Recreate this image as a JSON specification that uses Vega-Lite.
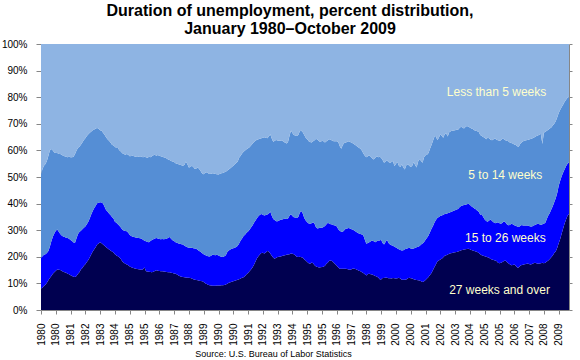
{
  "$schema": "https://vega.github.io/schema/vega-lite/v6.json",
  "width": 528,
  "height": 266,
  "autosize": "none",
  "padding": {"left": 41, "top": 44, "right": 11, "bottom": 50},
  "background": "white",
  "config": {"view": {"stroke": null}, "font": "Liberation Sans", "axisX": {"labelOverlap": false, "labelFlush": false, "labelBound": false}},
  "title": {
    "text": ["Duration of unemployment, percent distribution,", "January 1980–October 2009"],
    "font": "Liberation Sans",
    "fontSize": 16,
    "fontWeight": "bold",
    "color": "#000000",
    "anchor": "middle",
    "dx": -15,
    "offset": 2,
    "lineHeight": 18
  },
  "resolve": {"axis": {"y": "independent"}},
  "layer": [
    {
      "data": {"values": [
        {"d":"1980-01","long":8.0,"mid":11.6,"short":31.5,"vshort":48.9},
        {"d":"1980-02","long":8.5,"mid":11.7,"short":32.8,"vshort":47.0},
        {"d":"1980-03","long":9.0,"mid":11.8,"short":33.4,"vshort":45.8},
        {"d":"1980-04","long":9.5,"mid":11.5,"short":33.9,"vshort":45.1},
        {"d":"1980-05","long":10.2,"mid":11.2,"short":34.6,"vshort":44.0},
        {"d":"1980-06","long":11.2,"mid":11.0,"short":35.8,"vshort":42.0},
        {"d":"1980-07","long":12.0,"mid":11.8,"short":36.2,"vshort":40.0},
        {"d":"1980-08","long":12.8,"mid":13.0,"short":34.7,"vshort":39.5},
        {"d":"1980-09","long":13.6,"mid":13.9,"short":32.5,"vshort":40.0},
        {"d":"1980-10","long":14.2,"mid":14.6,"short":30.4,"vshort":40.8},
        {"d":"1980-11","long":14.8,"mid":15.0,"short":29.2,"vshort":41.0},
        {"d":"1980-12","long":15.2,"mid":15.1,"short":28.7,"vshort":41.0},
        {"d":"1981-01","long":15.1,"mid":14.3,"short":29.2,"vshort":41.4},
        {"d":"1981-02","long":15.0,"mid":13.6,"short":30.0,"vshort":41.4},
        {"d":"1981-03","long":14.8,"mid":13.2,"short":30.4,"vshort":41.6},
        {"d":"1981-04","long":14.4,"mid":13.2,"short":30.4,"vshort":42.0},
        {"d":"1981-05","long":14.2,"mid":13.2,"short":30.4,"vshort":42.2},
        {"d":"1981-06","long":14.0,"mid":13.2,"short":30.4,"vshort":42.4},
        {"d":"1981-07","long":13.6,"mid":13.5,"short":30.3,"vshort":42.6},
        {"d":"1981-08","long":13.4,"mid":13.4,"short":30.8,"vshort":42.4},
        {"d":"1981-09","long":13.1,"mid":13.2,"short":31.1,"vshort":42.6},
        {"d":"1981-10","long":12.8,"mid":13.1,"short":31.5,"vshort":42.6},
        {"d":"1981-11","long":12.5,"mid":12.9,"short":32.2,"vshort":42.4},
        {"d":"1981-12","long":12.4,"mid":12.9,"short":33.3,"vshort":41.4},
        {"d":"1982-01","long":12.8,"mid":14.2,"short":33.0,"vshort":40.0},
        {"d":"1982-02","long":13.6,"mid":15.0,"short":32.4,"vshort":39.0},
        {"d":"1982-03","long":14.2,"mid":15.1,"short":32.1,"vshort":38.6},
        {"d":"1982-04","long":15.2,"mid":14.6,"short":32.3,"vshort":37.9},
        {"d":"1982-05","long":15.8,"mid":14.6,"short":32.6,"vshort":37.0},
        {"d":"1982-06","long":16.6,"mid":14.3,"short":33.0,"vshort":36.1},
        {"d":"1982-07","long":17.2,"mid":14.2,"short":33.2,"vshort":35.4},
        {"d":"1982-08","long":18.0,"mid":14.2,"short":33.2,"vshort":34.6},
        {"d":"1982-09","long":18.8,"mid":14.4,"short":32.9,"vshort":33.9},
        {"d":"1982-10","long":19.8,"mid":14.7,"short":32.1,"vshort":33.4},
        {"d":"1982-11","long":21.0,"mid":15.0,"short":31.1,"vshort":32.9},
        {"d":"1982-12","long":22.0,"mid":15.2,"short":30.4,"vshort":32.4},
        {"d":"1983-01","long":22.8,"mid":15.5,"short":29.6,"vshort":32.1},
        {"d":"1983-02","long":23.7,"mid":15.5,"short":29.0,"vshort":31.8},
        {"d":"1983-03","long":24.6,"mid":15.5,"short":28.3,"vshort":31.6},
        {"d":"1983-04","long":25.0,"mid":15.3,"short":27.8,"vshort":31.9},
        {"d":"1983-05","long":25.5,"mid":15.0,"short":27.1,"vshort":32.4},
        {"d":"1983-06","long":25.1,"mid":15.3,"short":27.0,"vshort":32.6},
        {"d":"1983-07","long":24.6,"mid":15.4,"short":26.6,"vshort":33.4},
        {"d":"1983-08","long":24.2,"mid":14.6,"short":27.1,"vshort":34.1},
        {"d":"1983-09","long":23.6,"mid":14.0,"short":27.3,"vshort":35.1},
        {"d":"1983-10","long":23.2,"mid":13.8,"short":27.2,"vshort":35.8},
        {"d":"1983-11","long":22.7,"mid":13.6,"short":27.3,"vshort":36.4},
        {"d":"1983-12","long":22.4,"mid":13.3,"short":27.3,"vshort":37.0},
        {"d":"1984-01","long":22.0,"mid":13.0,"short":27.1,"vshort":37.9},
        {"d":"1984-02","long":21.6,"mid":12.8,"short":27.4,"vshort":38.2},
        {"d":"1984-03","long":21.0,"mid":12.2,"short":28.2,"vshort":38.6},
        {"d":"1984-04","long":20.5,"mid":12.3,"short":28.1,"vshort":39.1},
        {"d":"1984-05","long":20.2,"mid":12.0,"short":28.7,"vshort":39.1},
        {"d":"1984-06","long":19.7,"mid":12.0,"short":28.4,"vshort":39.9},
        {"d":"1984-07","long":19.2,"mid":11.8,"short":28.6,"vshort":40.4},
        {"d":"1984-08","long":18.2,"mid":12.0,"short":28.7,"vshort":41.1},
        {"d":"1984-09","long":17.8,"mid":12.1,"short":28.7,"vshort":41.4},
        {"d":"1984-10","long":17.4,"mid":12.3,"short":28.7,"vshort":41.6},
        {"d":"1984-11","long":17.1,"mid":12.5,"short":29.0,"vshort":41.4},
        {"d":"1984-12","long":16.8,"mid":12.2,"short":29.4,"vshort":41.6},
        {"d":"1985-01","long":16.4,"mid":11.8,"short":29.6,"vshort":42.2},
        {"d":"1985-02","long":16.1,"mid":11.7,"short":30.1,"vshort":42.1},
        {"d":"1985-03","long":15.9,"mid":11.6,"short":30.5,"vshort":42.0},
        {"d":"1985-04","long":15.7,"mid":11.7,"short":30.4,"vshort":42.2},
        {"d":"1985-05","long":15.5,"mid":11.8,"short":30.3,"vshort":42.4},
        {"d":"1985-06","long":15.4,"mid":11.8,"short":30.6,"vshort":42.2},
        {"d":"1985-07","long":15.3,"mid":11.8,"short":30.5,"vshort":42.4},
        {"d":"1985-08","long":15.2,"mid":11.8,"short":30.5,"vshort":42.5},
        {"d":"1985-09","long":15.1,"mid":11.7,"short":30.8,"vshort":42.4},
        {"d":"1985-10","long":15.3,"mid":11.1,"short":31.0,"vshort":42.6},
        {"d":"1985-11","long":16.0,"mid":10.0,"short":31.6,"vshort":42.4},
        {"d":"1985-12","long":14.6,"mid":11.2,"short":31.6,"vshort":42.6},
        {"d":"1986-01","long":14.5,"mid":11.1,"short":31.6,"vshort":42.8},
        {"d":"1986-02","long":14.4,"mid":11.1,"short":32.1,"vshort":42.4},
        {"d":"1986-03","long":14.3,"mid":11.6,"short":31.5,"vshort":42.6},
        {"d":"1986-04","long":14.2,"mid":12.1,"short":31.5,"vshort":42.2},
        {"d":"1986-05","long":14.4,"mid":12.2,"short":31.6,"vshort":41.8},
        {"d":"1986-06","long":14.7,"mid":12.2,"short":31.5,"vshort":41.6},
        {"d":"1986-07","long":14.9,"mid":12.2,"short":30.9,"vshort":42.0},
        {"d":"1986-08","long":14.8,"mid":12.1,"short":31.4,"vshort":41.7},
        {"d":"1986-09","long":14.7,"mid":12.0,"short":31.3,"vshort":42.0},
        {"d":"1986-10","long":14.6,"mid":12.0,"short":31.2,"vshort":42.2},
        {"d":"1986-11","long":14.6,"mid":12.1,"short":30.9,"vshort":42.4},
        {"d":"1986-12","long":14.5,"mid":12.1,"short":30.8,"vshort":42.6},
        {"d":"1987-01","long":14.4,"mid":12.3,"short":30.5,"vshort":42.8},
        {"d":"1987-02","long":14.3,"mid":12.5,"short":30.2,"vshort":43.0},
        {"d":"1987-03","long":14.2,"mid":13.0,"short":29.4,"vshort":43.4},
        {"d":"1987-04","long":14.2,"mid":13.2,"short":29.0,"vshort":43.6},
        {"d":"1987-05","long":14.0,"mid":12.8,"short":29.2,"vshort":44.0},
        {"d":"1987-06","long":13.9,"mid":12.3,"short":29.6,"vshort":44.2},
        {"d":"1987-07","long":13.7,"mid":12.2,"short":29.7,"vshort":44.4},
        {"d":"1987-08","long":13.6,"mid":11.9,"short":29.7,"vshort":44.8},
        {"d":"1987-09","long":13.3,"mid":12.0,"short":29.7,"vshort":45.0},
        {"d":"1987-10","long":13.0,"mid":12.0,"short":29.8,"vshort":45.2},
        {"d":"1987-11","long":12.7,"mid":12.2,"short":29.7,"vshort":45.4},
        {"d":"1987-12","long":12.5,"mid":12.2,"short":29.7,"vshort":45.6},
        {"d":"1988-01","long":12.4,"mid":12.2,"short":29.6,"vshort":45.8},
        {"d":"1988-02","long":12.3,"mid":11.9,"short":30.4,"vshort":45.4},
        {"d":"1988-03","long":12.2,"mid":11.7,"short":31.9,"vshort":44.2},
        {"d":"1988-04","long":12.1,"mid":11.5,"short":31.2,"vshort":45.2},
        {"d":"1988-05","long":12.1,"mid":11.3,"short":30.2,"vshort":46.4},
        {"d":"1988-06","long":12.0,"mid":11.4,"short":30.4,"vshort":46.2},
        {"d":"1988-07","long":11.8,"mid":11.6,"short":30.8,"vshort":45.8},
        {"d":"1988-08","long":11.6,"mid":11.6,"short":30.6,"vshort":46.2},
        {"d":"1988-09","long":11.4,"mid":11.7,"short":29.9,"vshort":47.0},
        {"d":"1988-10","long":11.3,"mid":11.7,"short":30.2,"vshort":46.8},
        {"d":"1988-11","long":11.2,"mid":11.4,"short":31.0,"vshort":46.4},
        {"d":"1988-12","long":11.0,"mid":11.2,"short":30.8,"vshort":47.0},
        {"d":"1989-01","long":10.9,"mid":10.9,"short":30.4,"vshort":47.8},
        {"d":"1989-02","long":10.8,"mid":10.5,"short":29.9,"vshort":48.8},
        {"d":"1989-03","long":10.5,"mid":10.5,"short":30.0,"vshort":49.0},
        {"d":"1989-04","long":10.1,"mid":10.6,"short":30.9,"vshort":48.4},
        {"d":"1989-05","long":9.8,"mid":10.6,"short":31.4,"vshort":48.2},
        {"d":"1989-06","long":9.5,"mid":10.7,"short":31.2,"vshort":48.6},
        {"d":"1989-07","long":9.3,"mid":10.8,"short":31.0,"vshort":48.9},
        {"d":"1989-08","long":9.2,"mid":11.2,"short":30.8,"vshort":48.8},
        {"d":"1989-09","long":9.1,"mid":11.7,"short":30.6,"vshort":48.6},
        {"d":"1989-10","long":9.1,"mid":11.6,"short":30.6,"vshort":48.7},
        {"d":"1989-11","long":9.1,"mid":11.5,"short":30.5,"vshort":48.9},
        {"d":"1989-12","long":9.2,"mid":11.6,"short":30.2,"vshort":49.0},
        {"d":"1990-01","long":9.2,"mid":11.3,"short":30.4,"vshort":49.1},
        {"d":"1990-02","long":9.2,"mid":11.0,"short":31.0,"vshort":48.8},
        {"d":"1990-03","long":9.3,"mid":10.7,"short":31.4,"vshort":48.6},
        {"d":"1990-04","long":9.3,"mid":10.6,"short":31.6,"vshort":48.5},
        {"d":"1990-05","long":9.4,"mid":10.8,"short":31.6,"vshort":48.2},
        {"d":"1990-06","long":9.6,"mid":11.0,"short":31.4,"vshort":48.0},
        {"d":"1990-07","long":9.9,"mid":11.9,"short":30.6,"vshort":47.6},
        {"d":"1990-08","long":10.2,"mid":12.2,"short":30.4,"vshort":47.2},
        {"d":"1990-09","long":10.4,"mid":12.3,"short":30.6,"vshort":46.7},
        {"d":"1990-10","long":10.6,"mid":12.4,"short":30.8,"vshort":46.2},
        {"d":"1990-11","long":10.8,"mid":12.4,"short":31.0,"vshort":45.8},
        {"d":"1990-12","long":11.0,"mid":12.4,"short":31.4,"vshort":45.2},
        {"d":"1991-01","long":11.2,"mid":12.5,"short":31.6,"vshort":44.7},
        {"d":"1991-02","long":11.4,"mid":12.8,"short":31.6,"vshort":44.2},
        {"d":"1991-03","long":11.6,"mid":13.4,"short":32.2,"vshort":42.8},
        {"d":"1991-04","long":11.8,"mid":14.3,"short":31.9,"vshort":42.0},
        {"d":"1991-05","long":12.1,"mid":14.8,"short":31.9,"vshort":41.2},
        {"d":"1991-06","long":12.3,"mid":15.5,"short":31.7,"vshort":40.5},
        {"d":"1991-07","long":12.8,"mid":15.5,"short":31.7,"vshort":40.0},
        {"d":"1991-08","long":13.4,"mid":15.6,"short":31.4,"vshort":39.6},
        {"d":"1991-09","long":13.9,"mid":15.6,"short":31.3,"vshort":39.2},
        {"d":"1991-10","long":14.6,"mid":15.6,"short":31.0,"vshort":38.8},
        {"d":"1991-11","long":15.2,"mid":15.8,"short":30.8,"vshort":38.2},
        {"d":"1991-12","long":16.0,"mid":15.8,"short":30.7,"vshort":37.5},
        {"d":"1992-01","long":17.0,"mid":15.8,"short":30.4,"vshort":36.8},
        {"d":"1992-02","long":18.2,"mid":15.4,"short":30.0,"vshort":36.4},
        {"d":"1992-03","long":19.4,"mid":15.1,"short":29.5,"vshort":36.0},
        {"d":"1992-04","long":20.2,"mid":15.0,"short":29.0,"vshort":35.8},
        {"d":"1992-05","long":20.9,"mid":14.9,"short":28.6,"vshort":35.6},
        {"d":"1992-06","long":21.4,"mid":14.7,"short":28.5,"vshort":35.4},
        {"d":"1992-07","long":21.5,"mid":14.3,"short":29.0,"vshort":35.2},
        {"d":"1992-08","long":21.2,"mid":14.3,"short":29.4,"vshort":35.1},
        {"d":"1992-09","long":21.6,"mid":14.1,"short":29.1,"vshort":35.2},
        {"d":"1992-10","long":22.2,"mid":13.7,"short":28.7,"vshort":35.4},
        {"d":"1992-11","long":22.0,"mid":14.2,"short":29.0,"vshort":34.8},
        {"d":"1992-12","long":21.2,"mid":15.8,"short":29.1,"vshort":33.9},
        {"d":"1993-01","long":20.4,"mid":15.0,"short":29.1,"vshort":35.5},
        {"d":"1993-02","long":19.6,"mid":14.6,"short":29.0,"vshort":36.8},
        {"d":"1993-03","long":19.3,"mid":14.5,"short":29.8,"vshort":36.4},
        {"d":"1993-04","long":19.6,"mid":13.8,"short":30.5,"vshort":36.1},
        {"d":"1993-05","long":19.9,"mid":13.5,"short":30.3,"vshort":36.3},
        {"d":"1993-06","long":20.0,"mid":13.6,"short":30.0,"vshort":36.4},
        {"d":"1993-07","long":20.1,"mid":13.8,"short":29.7,"vshort":36.4},
        {"d":"1993-08","long":20.3,"mid":13.7,"short":29.8,"vshort":36.2},
        {"d":"1993-09","long":20.5,"mid":13.7,"short":29.0,"vshort":36.8},
        {"d":"1993-10","long":20.6,"mid":13.7,"short":28.7,"vshort":37.0},
        {"d":"1993-11","long":20.8,"mid":13.4,"short":28.4,"vshort":37.4},
        {"d":"1993-12","long":20.9,"mid":13.5,"short":28.8,"vshort":36.8},
        {"d":"1994-01","long":21.0,"mid":14.4,"short":30.1,"vshort":34.5},
        {"d":"1994-02","long":21.2,"mid":14.8,"short":31.5,"vshort":32.5},
        {"d":"1994-03","long":21.1,"mid":14.2,"short":31.2,"vshort":33.5},
        {"d":"1994-04","long":21.0,"mid":13.9,"short":30.9,"vshort":34.2},
        {"d":"1994-05","long":20.5,"mid":14.3,"short":30.8,"vshort":34.4},
        {"d":"1994-06","long":20.0,"mid":14.6,"short":30.8,"vshort":34.6},
        {"d":"1994-07","long":19.9,"mid":15.1,"short":30.8,"vshort":34.2},
        {"d":"1994-08","long":20.0,"mid":16.6,"short":30.6,"vshort":32.8},
        {"d":"1994-09","long":19.8,"mid":17.4,"short":30.2,"vshort":32.6},
        {"d":"1994-10","long":19.7,"mid":16.6,"short":30.5,"vshort":33.2},
        {"d":"1994-11","long":19.0,"mid":15.6,"short":31.2,"vshort":34.2},
        {"d":"1994-12","long":18.6,"mid":15.0,"short":31.2,"vshort":35.2},
        {"d":"1995-01","long":18.0,"mid":15.0,"short":31.2,"vshort":35.8},
        {"d":"1995-02","long":17.6,"mid":14.9,"short":30.9,"vshort":36.6},
        {"d":"1995-03","long":17.4,"mid":15.0,"short":30.8,"vshort":36.8},
        {"d":"1995-04","long":17.9,"mid":14.7,"short":30.4,"vshort":37.0},
        {"d":"1995-05","long":17.6,"mid":15.4,"short":30.4,"vshort":36.6},
        {"d":"1995-06","long":16.8,"mid":15.6,"short":31.4,"vshort":36.2},
        {"d":"1995-07","long":16.4,"mid":14.6,"short":33.4,"vshort":35.6},
        {"d":"1995-08","long":16.2,"mid":14.4,"short":33.4,"vshort":36.0},
        {"d":"1995-09","long":16.0,"mid":14.8,"short":32.6,"vshort":36.6},
        {"d":"1995-10","long":16.1,"mid":14.8,"short":32.3,"vshort":36.8},
        {"d":"1995-11","long":16.2,"mid":14.7,"short":32.7,"vshort":36.4},
        {"d":"1995-12","long":16.3,"mid":14.9,"short":32.2,"vshort":36.6},
        {"d":"1996-01","long":16.6,"mid":15.0,"short":31.4,"vshort":37.0},
        {"d":"1996-02","long":17.4,"mid":14.8,"short":31.2,"vshort":36.6},
        {"d":"1996-03","long":17.9,"mid":14.9,"short":31.0,"vshort":36.2},
        {"d":"1996-04","long":18.5,"mid":13.9,"short":31.8,"vshort":35.8},
        {"d":"1996-05","long":18.6,"mid":13.6,"short":31.8,"vshort":36.0},
        {"d":"1996-06","long":18.3,"mid":13.8,"short":31.5,"vshort":36.4},
        {"d":"1996-07","long":17.8,"mid":14.1,"short":31.5,"vshort":36.6},
        {"d":"1996-08","long":17.2,"mid":14.6,"short":31.6,"vshort":36.6},
        {"d":"1996-09","long":16.6,"mid":14.8,"short":32.0,"vshort":36.6},
        {"d":"1996-10","long":16.0,"mid":14.4,"short":32.8,"vshort":36.8},
        {"d":"1996-11","long":15.5,"mid":14.3,"short":31.8,"vshort":38.4},
        {"d":"1996-12","long":15.5,"mid":13.9,"short":31.2,"vshort":39.4},
        {"d":"1997-01","long":15.5,"mid":13.9,"short":32.6,"vshort":38.0},
        {"d":"1997-02","long":15.5,"mid":14.5,"short":32.8,"vshort":37.2},
        {"d":"1997-03","long":15.5,"mid":15.0,"short":32.5,"vshort":37.0},
        {"d":"1997-04","long":15.4,"mid":15.2,"short":32.6,"vshort":36.8},
        {"d":"1997-05","long":15.2,"mid":15.6,"short":32.6,"vshort":36.6},
        {"d":"1997-06","long":15.1,"mid":15.5,"short":32.6,"vshort":36.8},
        {"d":"1997-07","long":15.3,"mid":15.1,"short":32.6,"vshort":37.0},
        {"d":"1997-08","long":15.6,"mid":14.6,"short":32.4,"vshort":37.4},
        {"d":"1997-09","long":15.5,"mid":14.3,"short":32.4,"vshort":37.8},
        {"d":"1997-10","long":15.3,"mid":14.1,"short":32.4,"vshort":38.2},
        {"d":"1997-11","long":15.0,"mid":14.0,"short":32.4,"vshort":38.6},
        {"d":"1997-12","long":14.8,"mid":14.0,"short":32.2,"vshort":39.0},
        {"d":"1998-01","long":14.6,"mid":14.0,"short":32.0,"vshort":39.4},
        {"d":"1998-02","long":14.2,"mid":14.2,"short":31.5,"vshort":40.1},
        {"d":"1998-03","long":13.9,"mid":14.1,"short":30.8,"vshort":41.2},
        {"d":"1998-04","long":13.4,"mid":13.0,"short":31.6,"vshort":42.0},
        {"d":"1998-05","long":13.0,"mid":11.9,"short":32.5,"vshort":42.6},
        {"d":"1998-06","long":13.5,"mid":11.7,"short":32.6,"vshort":42.2},
        {"d":"1998-07","long":13.6,"mid":11.9,"short":32.7,"vshort":41.8},
        {"d":"1998-08","long":13.4,"mid":12.4,"short":31.8,"vshort":42.4},
        {"d":"1998-09","long":13.3,"mid":12.8,"short":30.9,"vshort":43.0},
        {"d":"1998-10","long":13.1,"mid":12.7,"short":30.8,"vshort":43.4},
        {"d":"1998-11","long":12.8,"mid":12.7,"short":31.7,"vshort":42.8},
        {"d":"1998-12","long":12.6,"mid":13.2,"short":32.0,"vshort":42.2},
        {"d":"1999-01","long":12.2,"mid":13.9,"short":31.3,"vshort":42.6},
        {"d":"1999-02","long":11.6,"mid":14.5,"short":31.5,"vshort":42.4},
        {"d":"1999-03","long":11.5,"mid":14.9,"short":30.8,"vshort":42.8},
        {"d":"1999-04","long":12.0,"mid":13.2,"short":31.2,"vshort":43.6},
        {"d":"1999-05","long":12.0,"mid":12.6,"short":30.8,"vshort":44.6},
        {"d":"1999-06","long":12.2,"mid":13.4,"short":30.2,"vshort":44.2},
        {"d":"1999-07","long":12.1,"mid":14.3,"short":29.8,"vshort":43.8},
        {"d":"1999-08","long":11.9,"mid":13.3,"short":30.4,"vshort":44.4},
        {"d":"1999-09","long":11.9,"mid":12.7,"short":30.8,"vshort":44.6},
        {"d":"1999-10","long":11.8,"mid":12.5,"short":31.3,"vshort":44.4},
        {"d":"1999-11","long":12.0,"mid":12.2,"short":31.8,"vshort":44.0},
        {"d":"1999-12","long":11.9,"mid":11.9,"short":30.2,"vshort":46.0},
        {"d":"2000-01","long":11.8,"mid":11.7,"short":31.5,"vshort":45.0},
        {"d":"2000-02","long":11.9,"mid":11.2,"short":32.5,"vshort":44.4},
        {"d":"2000-03","long":12.1,"mid":10.7,"short":31.4,"vshort":45.8},
        {"d":"2000-04","long":11.8,"mid":10.8,"short":31.2,"vshort":46.2},
        {"d":"2000-05","long":11.4,"mid":11.0,"short":32.4,"vshort":45.2},
        {"d":"2000-06","long":11.4,"mid":11.1,"short":31.1,"vshort":46.4},
        {"d":"2000-07","long":11.4,"mid":11.4,"short":30.0,"vshort":47.2},
        {"d":"2000-08","long":11.5,"mid":11.5,"short":31.4,"vshort":45.6},
        {"d":"2000-09","long":11.9,"mid":11.3,"short":31.6,"vshort":45.2},
        {"d":"2000-10","long":12.1,"mid":11.3,"short":30.8,"vshort":45.8},
        {"d":"2000-11","long":11.9,"mid":11.2,"short":30.7,"vshort":46.2},
        {"d":"2000-12","long":11.8,"mid":11.2,"short":31.2,"vshort":45.8},
        {"d":"2001-01","long":11.6,"mid":11.5,"short":32.5,"vshort":44.4},
        {"d":"2001-02","long":11.4,"mid":12.0,"short":31.0,"vshort":45.6},
        {"d":"2001-03","long":11.3,"mid":12.3,"short":30.0,"vshort":46.4},
        {"d":"2001-04","long":11.2,"mid":12.6,"short":32.0,"vshort":44.2},
        {"d":"2001-05","long":11.1,"mid":13.0,"short":32.7,"vshort":43.2},
        {"d":"2001-06","long":10.8,"mid":13.8,"short":31.4,"vshort":44.0},
        {"d":"2001-07","long":10.5,"mid":14.5,"short":30.4,"vshort":44.6},
        {"d":"2001-08","long":10.8,"mid":14.8,"short":31.8,"vshort":42.6},
        {"d":"2001-09","long":11.3,"mid":15.1,"short":31.8,"vshort":41.8},
        {"d":"2001-10","long":11.8,"mid":15.4,"short":31.2,"vshort":41.6},
        {"d":"2001-11","long":12.4,"mid":15.6,"short":31.0,"vshort":41.0},
        {"d":"2001-12","long":13.2,"mid":16.0,"short":31.4,"vshort":39.4},
        {"d":"2002-01","long":13.9,"mid":16.6,"short":31.5,"vshort":38.0},
        {"d":"2002-02","long":15.0,"mid":16.6,"short":32.0,"vshort":36.4},
        {"d":"2002-03","long":16.1,"mid":16.7,"short":32.2,"vshort":35.0},
        {"d":"2002-04","long":17.1,"mid":16.7,"short":31.6,"vshort":34.6},
        {"d":"2002-05","long":18.2,"mid":16.4,"short":29.2,"vshort":36.2},
        {"d":"2002-06","long":18.6,"mid":16.4,"short":29.8,"vshort":35.2},
        {"d":"2002-07","long":19.0,"mid":16.3,"short":30.7,"vshort":34.0},
        {"d":"2002-08","long":19.3,"mid":16.2,"short":29.9,"vshort":34.6},
        {"d":"2002-09","long":19.8,"mid":16.0,"short":29.0,"vshort":35.2},
        {"d":"2002-10","long":20.4,"mid":15.7,"short":30.1,"vshort":33.8},
        {"d":"2002-11","long":20.6,"mid":15.6,"short":30.2,"vshort":33.6},
        {"d":"2002-12","long":20.9,"mid":15.5,"short":28.8,"vshort":34.8},
        {"d":"2003-01","long":21.1,"mid":15.5,"short":30.2,"vshort":33.2},
        {"d":"2003-02","long":21.3,"mid":15.5,"short":30.4,"vshort":32.8},
        {"d":"2003-03","long":21.4,"mid":15.6,"short":30.4,"vshort":32.6},
        {"d":"2003-04","long":21.6,"mid":15.7,"short":30.2,"vshort":32.5},
        {"d":"2003-05","long":21.7,"mid":15.8,"short":30.1,"vshort":32.4},
        {"d":"2003-06","long":21.8,"mid":16.0,"short":30.0,"vshort":32.2},
        {"d":"2003-07","long":22.0,"mid":16.0,"short":29.8,"vshort":32.2},
        {"d":"2003-08","long":22.2,"mid":16.4,"short":29.8,"vshort":31.6},
        {"d":"2003-09","long":22.5,"mid":16.6,"short":29.8,"vshort":31.1},
        {"d":"2003-10","long":22.6,"mid":16.7,"short":29.3,"vshort":31.4},
        {"d":"2003-11","long":22.7,"mid":16.8,"short":28.7,"vshort":31.8},
        {"d":"2003-12","long":22.8,"mid":16.8,"short":29.2,"vshort":31.2},
        {"d":"2004-01","long":22.9,"mid":16.9,"short":29.4,"vshort":30.8},
        {"d":"2004-02","long":23.0,"mid":16.9,"short":29.0,"vshort":31.1},
        {"d":"2004-03","long":22.8,"mid":16.8,"short":29.0,"vshort":31.4},
        {"d":"2004-04","long":22.6,"mid":16.4,"short":29.2,"vshort":31.8},
        {"d":"2004-05","long":22.4,"mid":16.2,"short":29.4,"vshort":32.0},
        {"d":"2004-06","long":22.2,"mid":16.0,"short":29.4,"vshort":32.4},
        {"d":"2004-07","long":22.0,"mid":15.9,"short":29.5,"vshort":32.6},
        {"d":"2004-08","long":21.8,"mid":15.5,"short":29.9,"vshort":32.8},
        {"d":"2004-09","long":21.4,"mid":15.5,"short":30.0,"vshort":33.1},
        {"d":"2004-10","long":21.0,"mid":14.8,"short":30.0,"vshort":34.2},
        {"d":"2004-11","long":20.6,"mid":15.4,"short":29.4,"vshort":34.6},
        {"d":"2004-12","long":20.4,"mid":14.6,"short":30.0,"vshort":35.0},
        {"d":"2005-01","long":20.2,"mid":13.8,"short":30.8,"vshort":35.2},
        {"d":"2005-02","long":20.0,"mid":13.5,"short":30.7,"vshort":35.8},
        {"d":"2005-03","long":19.8,"mid":13.4,"short":31.6,"vshort":35.2},
        {"d":"2005-04","long":19.6,"mid":14.0,"short":31.0,"vshort":35.4},
        {"d":"2005-05","long":19.2,"mid":14.8,"short":30.0,"vshort":36.0},
        {"d":"2005-06","long":19.0,"mid":14.5,"short":30.3,"vshort":36.2},
        {"d":"2005-07","long":18.8,"mid":14.2,"short":31.2,"vshort":35.8},
        {"d":"2005-08","long":18.6,"mid":14.0,"short":31.9,"vshort":35.5},
        {"d":"2005-09","long":18.4,"mid":14.4,"short":31.2,"vshort":36.0},
        {"d":"2005-10","long":17.8,"mid":15.2,"short":30.8,"vshort":36.2},
        {"d":"2005-11","long":17.6,"mid":15.0,"short":31.0,"vshort":36.4},
        {"d":"2005-12","long":17.8,"mid":14.6,"short":31.4,"vshort":36.2},
        {"d":"2006-01","long":18.0,"mid":14.8,"short":31.8,"vshort":35.4},
        {"d":"2006-02","long":18.4,"mid":15.0,"short":30.8,"vshort":35.8},
        {"d":"2006-03","long":18.6,"mid":14.4,"short":30.8,"vshort":36.2},
        {"d":"2006-04","long":18.0,"mid":14.2,"short":31.4,"vshort":36.4},
        {"d":"2006-05","long":17.6,"mid":14.3,"short":31.5,"vshort":36.6},
        {"d":"2006-06","long":17.2,"mid":14.8,"short":31.0,"vshort":37.0},
        {"d":"2006-07","long":16.8,"mid":15.6,"short":30.4,"vshort":37.2},
        {"d":"2006-08","long":16.9,"mid":15.3,"short":30.4,"vshort":37.4},
        {"d":"2006-09","long":17.1,"mid":14.8,"short":30.3,"vshort":37.8},
        {"d":"2006-10","long":16.6,"mid":15.1,"short":30.3,"vshort":38.0},
        {"d":"2006-11","long":16.0,"mid":15.4,"short":30.2,"vshort":38.4},
        {"d":"2006-12","long":16.0,"mid":15.2,"short":30.2,"vshort":38.6},
        {"d":"2007-01","long":16.6,"mid":15.0,"short":30.8,"vshort":37.6},
        {"d":"2007-02","long":16.9,"mid":15.1,"short":31.0,"vshort":37.0},
        {"d":"2007-03","long":17.0,"mid":14.8,"short":31.6,"vshort":36.6},
        {"d":"2007-04","long":17.2,"mid":14.6,"short":31.8,"vshort":36.4},
        {"d":"2007-05","long":17.3,"mid":14.5,"short":32.0,"vshort":36.2},
        {"d":"2007-06","long":17.5,"mid":14.3,"short":32.1,"vshort":36.1},
        {"d":"2007-07","long":17.3,"mid":14.3,"short":32.5,"vshort":35.9},
        {"d":"2007-08","long":17.1,"mid":14.3,"short":32.9,"vshort":35.7},
        {"d":"2007-09","long":17.3,"mid":14.1,"short":33.1,"vshort":35.5},
        {"d":"2007-10","long":17.6,"mid":14.2,"short":33.0,"vshort":35.2},
        {"d":"2007-11","long":17.8,"mid":14.2,"short":33.0,"vshort":35.0},
        {"d":"2007-12","long":17.6,"mid":14.6,"short":33.2,"vshort":34.6},
        {"d":"2008-01","long":17.4,"mid":15.0,"short":33.2,"vshort":34.4},
        {"d":"2008-02","long":17.5,"mid":14.7,"short":33.8,"vshort":34.0},
        {"d":"2008-03","long":17.6,"mid":14.4,"short":34.2,"vshort":33.8},
        {"d":"2008-04","long":17.8,"mid":14.4,"short":30.2,"vshort":37.6},
        {"d":"2008-05","long":17.6,"mid":14.8,"short":34.2,"vshort":33.4},
        {"d":"2008-06","long":17.8,"mid":15.0,"short":34.2,"vshort":33.0},
        {"d":"2008-07","long":18.2,"mid":16.0,"short":33.2,"vshort":32.6},
        {"d":"2008-08","long":18.6,"mid":16.9,"short":32.3,"vshort":32.2},
        {"d":"2008-09","long":19.2,"mid":17.3,"short":31.7,"vshort":31.8},
        {"d":"2008-10","long":19.8,"mid":18.0,"short":30.8,"vshort":31.4},
        {"d":"2008-11","long":20.5,"mid":18.5,"short":30.4,"vshort":30.6},
        {"d":"2008-12","long":21.4,"mid":19.1,"short":29.5,"vshort":30.0},
        {"d":"2009-01","long":22.0,"mid":20.0,"short":29.0,"vshort":29.0},
        {"d":"2009-02","long":23.4,"mid":20.6,"short":28.5,"vshort":27.5},
        {"d":"2009-03","long":25.0,"mid":21.5,"short":27.5,"vshort":26.0},
        {"d":"2009-04","long":26.6,"mid":21.9,"short":26.7,"vshort":24.8},
        {"d":"2009-05","long":28.6,"mid":21.6,"short":26.0,"vshort":23.8},
        {"d":"2009-06","long":30.5,"mid":21.1,"short":25.6,"vshort":22.8},
        {"d":"2009-07","long":32.4,"mid":20.4,"short":25.4,"vshort":21.8},
        {"d":"2009-08","long":34.0,"mid":20.0,"short":25.0,"vshort":21.0},
        {"d":"2009-09","long":35.4,"mid":19.6,"short":24.8,"vshort":20.2},
        {"d":"2009-10","long":36.1,"mid":19.4,"short":24.7,"vshort":19.8}
      ]},
      "transform": [{"fold": ["long", "mid", "short", "vshort"], "as": ["dur", "pct"]}],
      "mark": {"type": "area", "interpolate": "linear"},
      "encoding": {
        "x": {
          "field": "d",
          "type": "temporal",
          "scale": {
            "type": "utc",
            "nice": false,
            "domain": [{"year": 1980, "month": 1, "date": 1, "utc": true}, {"year": 2009, "month": 10, "date": 1, "utc": true}]
          },
          "axis": {
            "values": [
              {"year":1980,"month":1,"date":1,"utc":true},{"year":1980,"month":11,"date":1,"utc":true},
              {"year":1981,"month":9,"date":1,"utc":true},{"year":1982,"month":7,"date":1,"utc":true},
              {"year":1983,"month":5,"date":1,"utc":true},{"year":1984,"month":3,"date":1,"utc":true},
              {"year":1985,"month":1,"date":1,"utc":true},{"year":1985,"month":11,"date":1,"utc":true},
              {"year":1986,"month":9,"date":1,"utc":true},{"year":1987,"month":7,"date":1,"utc":true},
              {"year":1988,"month":5,"date":1,"utc":true},{"year":1989,"month":3,"date":1,"utc":true},
              {"year":1990,"month":1,"date":1,"utc":true},{"year":1990,"month":11,"date":1,"utc":true},
              {"year":1991,"month":9,"date":1,"utc":true},{"year":1992,"month":7,"date":1,"utc":true},
              {"year":1993,"month":5,"date":1,"utc":true},{"year":1994,"month":3,"date":1,"utc":true},
              {"year":1995,"month":1,"date":1,"utc":true},{"year":1995,"month":11,"date":1,"utc":true},
              {"year":1996,"month":9,"date":1,"utc":true},{"year":1997,"month":7,"date":1,"utc":true},
              {"year":1998,"month":5,"date":1,"utc":true},{"year":1999,"month":3,"date":1,"utc":true},
              {"year":2000,"month":1,"date":1,"utc":true},{"year":2000,"month":11,"date":1,"utc":true},
              {"year":2001,"month":9,"date":1,"utc":true},{"year":2002,"month":7,"date":1,"utc":true},
              {"year":2003,"month":5,"date":1,"utc":true},{"year":2004,"month":3,"date":1,"utc":true},
              {"year":2005,"month":1,"date":1,"utc":true},{"year":2005,"month":11,"date":1,"utc":true},
              {"year":2006,"month":9,"date":1,"utc":true},{"year":2007,"month":7,"date":1,"utc":true},
              {"year":2008,"month":5,"date":1,"utc":true},{"year":2009,"month":3,"date":1,"utc":true}
            ],
            "labelExpr": "utcFormat(datum.value, '%Y')",
            "labelAngle": -90,
            "labelFont": "Liberation Sans",
            "labelFontSize": 10,
            "labelColor": "#000000",
            "labelPadding": 9,
            "labelOverlap": false,
            "labelFlush": false,
            "labelBound": false,
            "tickSize": 4,
            "tickColor": "#868686",
            "domainColor": "#868686",
            "grid": false,
            "title": "Source: U.S. Bureau of Labor Statistics",
            "titleFont": "Liberation Sans",
            "titleFontSize": 9,
            "titleFontWeight": "normal",
            "titleColor": "#000000",
            "titleX": 232,
            "titleY": 43,
            "titleBaseline": "middle"
          }
        },
        "y": {
          "field": "pct",
          "type": "quantitative",
          "stack": "zero",
          "scale": {"domain": [0, 100], "nice": false},
          "axis": {
            "values": [0, 10, 20, 30, 40, 50, 60, 70, 80, 90, 100],
            "labelExpr": "datum.value + '%'",
            "labelFont": "Liberation Sans",
            "labelFontSize": 10,
            "labelColor": "#000000",
            "labelPadding": 9,
            "tickSize": 5,
            "tickColor": "#868686",
            "domainColor": "#868686",
            "grid": false,
            "title": null
          }
        },
        "color": {
          "field": "dur",
          "type": "nominal",
          "scale": {"domain": ["long", "mid", "short", "vshort"], "range": ["#000050", "#0000FF", "#558ED5", "#8EB4E3"]},
          "legend": null
        },
        "order": {"field": "dur", "type": "ordinal", "sort": "ascending"}
      }
    },
    {
      "data": {"values": [
        {"d": "2005-09", "y": 81.8, "t": "Less than 5 weeks"},
        {"d": "2006-03", "y": 50.6, "t": "5 to 14 weeks"},
        {"d": "2006-03", "y": 26.9, "t": "15 to 26 weeks"},
        {"d": "2005-11", "y": 7.7, "t": "27 weeks and over"}
      ]},
      "mark": {"type": "text", "font": "Liberation Sans", "fontSize": 12, "color": "#FFFFCC", "align": "center", "baseline": "middle"},
      "encoding": {
        "x": {
          "field": "d",
          "type": "temporal",
          "axis": {
            "values": [
              {"year":1980,"month":1,"date":1,"utc":true},{"year":1980,"month":11,"date":1,"utc":true},
              {"year":1981,"month":9,"date":1,"utc":true},{"year":1982,"month":7,"date":1,"utc":true},
              {"year":1983,"month":5,"date":1,"utc":true},{"year":1984,"month":3,"date":1,"utc":true},
              {"year":1985,"month":1,"date":1,"utc":true},{"year":1985,"month":11,"date":1,"utc":true},
              {"year":1986,"month":9,"date":1,"utc":true},{"year":1987,"month":7,"date":1,"utc":true},
              {"year":1988,"month":5,"date":1,"utc":true},{"year":1989,"month":3,"date":1,"utc":true},
              {"year":1990,"month":1,"date":1,"utc":true},{"year":1990,"month":11,"date":1,"utc":true},
              {"year":1991,"month":9,"date":1,"utc":true},{"year":1992,"month":7,"date":1,"utc":true},
              {"year":1993,"month":5,"date":1,"utc":true},{"year":1994,"month":3,"date":1,"utc":true},
              {"year":1995,"month":1,"date":1,"utc":true},{"year":1995,"month":11,"date":1,"utc":true},
              {"year":1996,"month":9,"date":1,"utc":true},{"year":1997,"month":7,"date":1,"utc":true},
              {"year":1998,"month":5,"date":1,"utc":true},{"year":1999,"month":3,"date":1,"utc":true},
              {"year":2000,"month":1,"date":1,"utc":true},{"year":2000,"month":11,"date":1,"utc":true},
              {"year":2001,"month":9,"date":1,"utc":true},{"year":2002,"month":7,"date":1,"utc":true},
              {"year":2003,"month":5,"date":1,"utc":true},{"year":2004,"month":3,"date":1,"utc":true},
              {"year":2005,"month":1,"date":1,"utc":true},{"year":2005,"month":11,"date":1,"utc":true},
              {"year":2006,"month":9,"date":1,"utc":true},{"year":2007,"month":7,"date":1,"utc":true},
              {"year":2008,"month":5,"date":1,"utc":true},{"year":2009,"month":3,"date":1,"utc":true}
            ],
            "labelExpr": "utcFormat(datum.value, '%Y')",
            "labelAngle": -90,
            "labelFont": "Liberation Sans",
            "labelFontSize": 10,
            "labelColor": "#000000",
            "labelPadding": 9,
            "labelOverlap": false,
            "labelFlush": false,
            "labelBound": false,
            "tickSize": 4,
            "tickColor": "#868686",
            "domainColor": "#868686",
            "grid": false,
            "title": "Source: U.S. Bureau of Labor Statistics",
            "titleFont": "Liberation Sans",
            "titleFontSize": 9,
            "titleFontWeight": "normal",
            "titleColor": "#000000",
            "titleX": 232,
            "titleY": 43,
            "titleBaseline": "middle"
          }
        },
        "y": {
          "field": "y",
          "type": "quantitative",
          "axis": {
            "orient": "right",
            "values": [0, 10, 20, 30, 40, 50, 60, 70, 80, 90, 100],
            "labels": false,
            "ticks": true,
            "tickSize": 3,
            "tickColor": "#868686",
            "domain": true,
            "domainColor": "#868686",
            "grid": false,
            "title": null
          }
        },
        "text": {"field": "t"}
      }
    }
  ]
}
